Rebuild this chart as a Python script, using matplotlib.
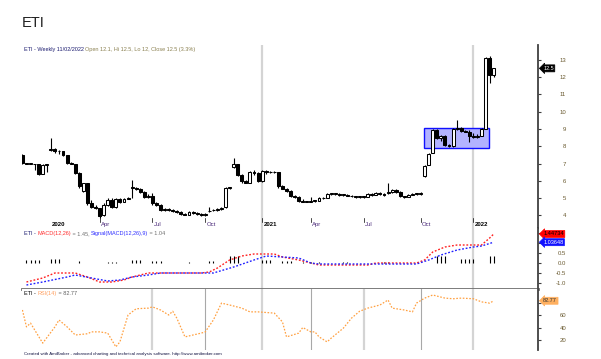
import matplotlib
matplotlib.use("Agg")
import matplotlib.pyplot as plt
import matplotlib.transforms as mtransforms
from matplotlib.patches import Rectangle

plt.rcParams['font.family'] = ['Liberation Sans', 'DejaVu Sans']

SYMBOL = "ETI"

# weekly bars, one entry per week (index 0 = first bar on the chart)
opens = [7.5, 7.05, 7.0, 7.0, 6.95, 6.4, 6.9, 7.8, 7.85, 7.7,
         7.75, 7.5, 7.05, 7.0, 6.45, 5.4, 5.85, 4.7, 4.5, 4.4,
         4.0, 4.6, 4.9, 4.5, 4.95, 4.8, 4.95, 5.6, 5.6, 5.5,
         5.35, 5.05, 5.15, 4.7, 4.6, 4.3, 4.35, 4.3, 4.25, 4.2,
         4.1, 4.05, 4.2, 4.15, 4.1, 4.0, 4.25, 4.3, 4.3, 4.35,
         4.5, 5.6, 6.8, 6.95, 6.35, 6.0, 5.9, 6.5, 6.45, 6.0,
         6.55, 6.5, 6.5, 6.5, 5.7, 5.55, 5.4, 5.1, 5.05, 4.85,
         4.8, 4.8, 4.85, 4.85, 5.0, 5.0, 5.25, 5.25, 5.25, 5.2,
         5.2, 5.15, 5.1, 5.05, 5.1, 5.05, 5.25, 5.2, 5.3, 5.25,
         5.3, 5.35, 5.45, 5.35, 5.1, 5.05, 5.2, 5.25, 5.25, 6.25,
         6.9, 7.6, 8.95, 8.45, 8.6, 8.05, 8.0, 9.0, 9.05, 8.9,
         8.85, 8.6, 8.55, 8.6, 9.0, 13.1, 12.1]
highs = [7.55, 7.05, 7.05, 7.0, 6.95, 6.95, 7.0, 8.5, 7.9, 7.8,
         7.75, 7.5, 7.1, 7.0, 6.5, 5.9, 5.9, 4.9, 4.6, 4.45,
         4.7, 5.0, 5.0, 5.0, 5.0, 5.0, 5.05, 6.05, 5.65, 5.6,
         5.4, 5.25, 5.3, 4.75, 4.65, 4.4, 4.4, 4.35, 4.3, 4.25,
         4.15, 4.25, 4.25, 4.2, 4.15, 4.15, 4.5, 4.35, 4.4, 4.5,
         5.65, 5.65, 7.3, 7.0, 6.4, 6.05, 6.55, 6.6, 6.5, 6.6,
         6.6, 6.55, 6.55, 6.5, 5.75, 5.6, 5.45, 5.2, 5.1, 4.95,
         4.85, 5.05, 4.9, 5.05, 5.05, 5.3, 5.3, 5.3, 5.3, 5.25,
         5.25, 5.2, 5.15, 5.15, 5.15, 5.3, 5.3, 5.35, 5.35, 5.3,
         5.9, 5.5, 5.5, 5.4, 5.15, 5.25, 5.3, 5.3, 5.35, 6.9,
         7.6, 9.0, 9.0, 8.65, 8.65, 8.1, 9.05, 9.5, 9.1, 8.95,
         8.95, 8.75, 8.7, 9.05, 13.15, 13.2, 12.5]
lows = [7.0, 6.95, 6.95, 6.65, 6.35, 6.4, 6.5, 7.75, 7.6, 7.55,
        7.45, 7.0, 6.95, 6.4, 5.6, 5.35, 4.6, 4.45, 4.35, 3.85,
        3.95, 4.55, 4.45, 4.45, 4.7, 4.75, 4.95, 5.0, 5.45, 5.3,
        5.0, 5.0, 4.6, 4.55, 4.25, 4.25, 4.25, 4.2, 4.15, 4.05,
        4.0, 4.0, 4.1, 4.05, 3.95, 3.95, 4.2, 4.25, 4.25, 4.3,
        4.45, 5.55, 6.75, 6.3, 5.9, 5.85, 5.85, 6.35, 5.95, 5.95,
        6.4, 6.45, 6.45, 5.6, 5.5, 5.35, 5.05, 5.0, 4.8, 4.75,
        4.75, 4.8, 4.8, 4.85, 4.95, 5.0, 5.2, 5.2, 5.15, 5.15,
        5.1, 5.05, 5.0, 5.0, 5.0, 5.05, 5.15, 5.2, 5.2, 5.15,
        5.25, 5.3, 5.3, 5.05, 5.0, 5.05, 5.2, 5.2, 5.2, 6.2,
        6.9, 7.6, 8.4, 8.3, 8.0, 7.95, 7.95, 8.95, 8.85, 8.8,
        8.25, 8.5, 8.5, 8.6, 9.0, 11.65, 12.0]
closes = [7.05, 7.0, 7.0, 6.95, 6.4, 6.9, 6.95, 7.85, 7.7, 7.75,
          7.5, 7.05, 7.0, 6.45, 5.7, 5.85, 4.7, 4.5, 4.4, 3.95,
          4.6, 4.9, 4.5, 4.95, 4.8, 4.95, 5.0, 5.6, 5.5, 5.35,
          5.05, 5.15, 4.7, 4.6, 4.3, 4.35, 4.3, 4.25, 4.2, 4.1,
          4.05, 4.2, 4.15, 4.1, 4.0, 4.1, 4.25, 4.3, 4.35, 4.45,
          5.6, 5.6, 7.0, 6.35, 6.0, 5.9, 6.5, 6.45, 6.0, 6.55,
          6.5, 6.5, 6.5, 5.7, 5.55, 5.4, 5.1, 5.05, 4.85, 4.8,
          4.8, 4.85, 4.85, 5.0, 5.0, 5.25, 5.25, 5.25, 5.2, 5.2,
          5.15, 5.1, 5.05, 5.1, 5.05, 5.25, 5.2, 5.3, 5.25, 5.2,
          5.35, 5.45, 5.35, 5.1, 5.05, 5.2, 5.25, 5.25, 5.3, 6.85,
          7.55, 8.95, 8.45, 8.6, 8.05, 8.0, 9.0, 9.05, 8.9, 8.85,
          8.6, 8.55, 8.6, 9.0, 13.1, 12.1, 12.5]

# date axis
tickBars = [7, 19, 32, 45, 59, 71, 84, 98, 111]
tickLabels = ["2020", "Apr", "Jul", "Oct", "2021", "Apr", "Jul", "Oct", "2022"]
yearBars = [59, 111]
rsiGridBars = [32, 45, 59, 71, 84, 98, 111]

# consolidation box drawn on the price pane
boxBars = (98.8, 114.8)
boxPrices = (7.9, 9.05)

# MACD pane
macdBars = [1, 5, 8, 11, 13, 16, 19, 22, 25, 27, 31, 34, 44, 46, 48, 51, 54,
            57, 62, 64, 68, 71, 73, 85, 87, 97, 99, 101, 104, 107, 110, 113,
            115, 116]
macdValues = [-0.95, -0.75, -0.5, -0.5, -0.5, -0.7, -0.95, -0.95, -0.85, -0.7,
              -0.5, -0.5, -0.5, -0.45, -0.25, 0.15, 0.35, 0.45, 0.45, 0.3,
              0.15, 0.0, -0.1, -0.1, 0.0, 0.0, 0.15, 0.55, 0.8, 0.9, 0.9, 0.9,
              1.25, 1.45]
signalBars = [1, 5, 11, 13, 17, 21, 24, 27, 31, 34, 47, 52, 57, 60, 64, 68,
              71, 73, 97, 100, 103, 107, 111, 113, 116]
signalValues = [-1.1, -0.95, -0.7, -0.6, -0.75, -0.9, -0.85, -0.7, -0.6, -0.5,
                -0.5, -0.2, 0.15, 0.35, 0.3, 0.25, 0.0, -0.05, -0.05, 0.15,
                0.4, 0.65, 0.8, 0.85, 1.04]
histBars = [1, 2, 3, 4, 7, 8, 9, 14, 21, 22, 23, 27, 28, 29, 32, 33, 34, 41,
            46, 47, 51, 52, 53, 59, 60, 61, 64, 65, 66, 69, 71, 73, 79, 80, 89,
            90, 102, 103, 104, 108, 109, 110, 111, 115, 116]
histValues = [0.15, 0.15, 0.15, 0.15, 0.2, 0.2, 0.2, 0.1, 0.05, 0.05, 0.05,
              0.15, 0.15, 0.15, 0.12, 0.12, 0.12, 0.05, 0.1, 0.1, 0.35, 0.35,
              0.35, 0.15, 0.15, 0.15, 0.1, 0.1, 0.1, 0.05, 0.05, 0.05, 0.05,
              0.05, 0.05, 0.05, 0.35, 0.35, 0.35, 0.2, 0.2, 0.2, 0.2, 0.35,
              0.35]

# RSI pane
rsiBars = [0, 1, 2, 5, 8, 9, 11, 13, 16, 17, 19, 21, 23, 24, 26, 28, 31, 32,
           34, 36, 37, 38, 40, 42, 44, 45, 47, 49, 51, 54, 56, 58, 62, 64, 65,
           68, 69, 71, 72, 73, 75, 76, 79, 81, 83, 85, 88, 90, 91, 94, 96, 97,
           99, 101, 104, 106, 108, 111, 113, 115, 116]
rsiValues = [68, 41, 47, 15, 41, 52, 41, 28, 30, 33, 33, 31, 9, 17, 60, 70,
             71, 73, 68, 60, 66, 55, 25, 28, 31, 33, 52, 79, 76, 71, 65, 65, 63,
             49, 25, 31, 40, 33, 33, 25, 17, 23, 39, 55, 66, 71, 76, 84, 71, 68,
             65, 79, 87, 92, 87, 86, 87, 86, 81, 79, 82.77]

# tick levels; levels hidden behind the value tags carry no label
priceTicks = [4, 5, 6, 7, 8, 9, 10, 11, 12, 13]
macdTicks = [-1.0, -0.5, 0.0, 0.5, 1.0, 1.5]
macdTickLabels = ["-1.0", "-0.5", "0.0", "0.5", "", ""]
rsiTicks = [20, 40, 60, 80]
rsiTickLabels = ["20", "40", "60", ""]

priceHeader = [("ETI - Weekly 11/02/2022 ", "#1c1c70"),
               ("Open 12.1, Hi 12.5, Lo 12, Close 12.5 (3.3%)", "#8a8050")]
macdHeader = [("ETI - ", "#1c1c70"), ("MACD(12,26)", "#ff3030"),
              (" = 1.45, ", "#707070"), ("Signal(MACD(12,26),9)", "#3030ff"),
              (" = 1.04", "#707070")]
rsiHeader = [("ETI - ", "#000000"), ("RSI(14)", "#ffa060"), (" = 82.77", "#606060")]
footer = ("Created with AmiBroker - advanced charting and technical analysis "
          "software. http://www.amibroker.com")

W, H = 601, 359
X_LIMITS = (-0.1, 126.9)
AXIS_COLOR = "#404040"
LABEL_COLOR = "#6a5a30"


def PixelRect(left, top, right, bottom):
    return [left / W, 1 - bottom / H, (right - left) / W, (bottom - top) / H]


def SetupPane(ax, yLimits, ticks, labels):
    ax.set_xlim(*X_LIMITS)
    ax.set_ylim(*yLimits)
    ax.set_xticks([])
    for side in ("left", "top", "bottom"):
        ax.spines[side].set_visible(False)
    ax.spines["right"].set_color(AXIS_COLOR)
    ax.spines["right"].set_linewidth(1.3)
    ax.yaxis.tick_right()
    ax.set_yticks(ticks)
    ax.set_yticklabels(labels)
    ax.tick_params(axis="y", direction="out", length=1.8, width=0.8,
                   pad=18.5, labelsize=4.3, labelcolor=LABEL_COLOR,
                   color=AXIS_COLOR)
    plt.setp(ax.yaxis.get_majorticklabels(), ha="right")
    ax.set_facecolor("white")


def ValueTag(ax, y, text, face, textColor):
    trans = mtransforms.blended_transform_factory(ax.transAxes, ax.transData)
    ax.text(1.01, y, text, transform=trans, ha="left", va="center",
            fontsize=4, color=textColor, clip_on=False, zorder=6,
            bbox=dict(boxstyle="larrow,pad=0.18", fc=face, ec=face, lw=0.5))


def ColorText(fig, ax, x, y, parts, size):
    first, color = parts[0]
    t = fig.text(x, y, first, color=color, fontsize=size, va="bottom")
    for s, c in parts[1:]:
        t = ax.annotate(s, xy=(1, 0), xycoords=t, va="bottom", color=c,
                        fontsize=size)


def DrawCandles(ax):
    bars = list(range(len(opens)))
    ax.vlines(bars, lows, highs, color="black", linewidth=0.8, zorder=3)
    bottoms = [min(o, c) for o, c in zip(opens, closes)]
    heights = [max(abs(c - o), 0.03) for o, c in zip(opens, closes)]
    faces = ["white" if c >= o else "black" for o, c in zip(opens, closes)]
    ax.bar(bars, heights, bottom=bottoms, width=0.72, color=faces,
           edgecolor="black", linewidth=0.75, zorder=4)


def Chart():
    fig = plt.figure(figsize=(W / 100, H / 100), dpi=100)
    fig.patch.set_facecolor("white")

    axPrice = fig.add_axes(PixelRect(22, 45, 538, 228))
    axMacd = fig.add_axes(PixelRect(22, 228, 538, 289))
    axRsi = fig.add_axes(PixelRect(22, 289, 538, 350))

    # price pane
    SetupPane(axPrice, (3.272, 13.85), priceTicks, [str(t) for t in priceTicks])
    for b in yearBars:
        axPrice.axvline(b, color="#d4d4d4", linewidth=1.6, zorder=0)
    axPrice.add_patch(Rectangle((boxBars[0], boxPrices[0]),
                                boxBars[1] - boxBars[0],
                                boxPrices[1] - boxPrices[0],
                                facecolor="#b3b3ff", edgecolor="#1010ff",
                                linewidth=1.0, zorder=1))
    DrawCandles(axPrice)
    ValueTag(axPrice, closes[-1], "12.5", "black", "white")

    dateTrans = mtransforms.blended_transform_factory(axPrice.transData,
                                                      axPrice.transAxes)
    for b, label in zip(tickBars, tickLabels):
        isYear = label.isdigit()
        axPrice.text(b + 0.3, 0.005, label, transform=dateTrans, ha="left",
                     va="bottom", fontsize=4.3,
                     fontweight="bold" if isYear else "normal",
                     color="black" if isYear else "#4b2a7a")
        if b != tickBars[0]:
            axPrice.plot([b, b], [0.035, 0.055], transform=dateTrans,
                         color="black", linewidth=0.5)

    # MACD pane
    SetupPane(axMacd, (-1.3, 1.75), macdTicks, macdTickLabels)
    axMacd.spines["bottom"].set_visible(True)
    axMacd.spines["bottom"].set_color("#707070")
    axMacd.spines["bottom"].set_linewidth(2.0)
    for b in yearBars:
        axMacd.axvline(b, color="#d4d4d4", linewidth=1.6, zorder=0)
    axMacd.vlines(histBars, 0, histValues, color="black", linewidth=0.8,
                  zorder=2)
    axMacd.plot(macdBars, macdValues, color="#ff2020", linewidth=1.0,
                linestyle=(0, (1.3, 1.3)), zorder=3)
    axMacd.plot(signalBars, signalValues, color="#2020ff", linewidth=1.0,
                linestyle=(0, (1.3, 1.3)), zorder=3)
    ValueTag(axMacd, macdValues[-1], "1.44734", "#ff0000", "black")
    ValueTag(axMacd, signalValues[-1], "1.03648", "#1010ff", "white")

    # RSI pane
    SetupPane(axRsi, (4, 101.6), rsiTicks, rsiTickLabels)
    for k, b in enumerate(rsiGridBars):
        if k % 2 == 0:
            axRsi.axvline(b, color="#d4d4d4", linewidth=1.6, zorder=0)
        else:
            axRsi.axvline(b, color="#a8a8a8", linewidth=0.8, zorder=0)
    axRsi.plot(rsiBars, rsiValues, color="#ffa040", linewidth=0.9,
               linestyle=(0, (1.3, 1.3)), zorder=3)
    ValueTag(axRsi, rsiValues[-1], "82.77", "#ffb060", "#303030")

    # texts
    fig.text(22 / W, 1 - 23 / H, SYMBOL, fontsize=10.5, va="center",
             color="#202020")
    ColorText(fig, axPrice, 24 / W, 1 - 52 / H, priceHeader, 4)
    ColorText(fig, axMacd, 24 / W, 1 - 236 / H, macdHeader, 4)
    ColorText(fig, axRsi, 24 / W, 1 - 296 / H, rsiHeader, 4)
    fig.text(24 / W, 1 - 354 / H, footer, fontsize=3.2, va="center",
             color="#101040")

    fig.savefig("out.png", dpi=100)


if __name__ == "__main__":
    Chart()
